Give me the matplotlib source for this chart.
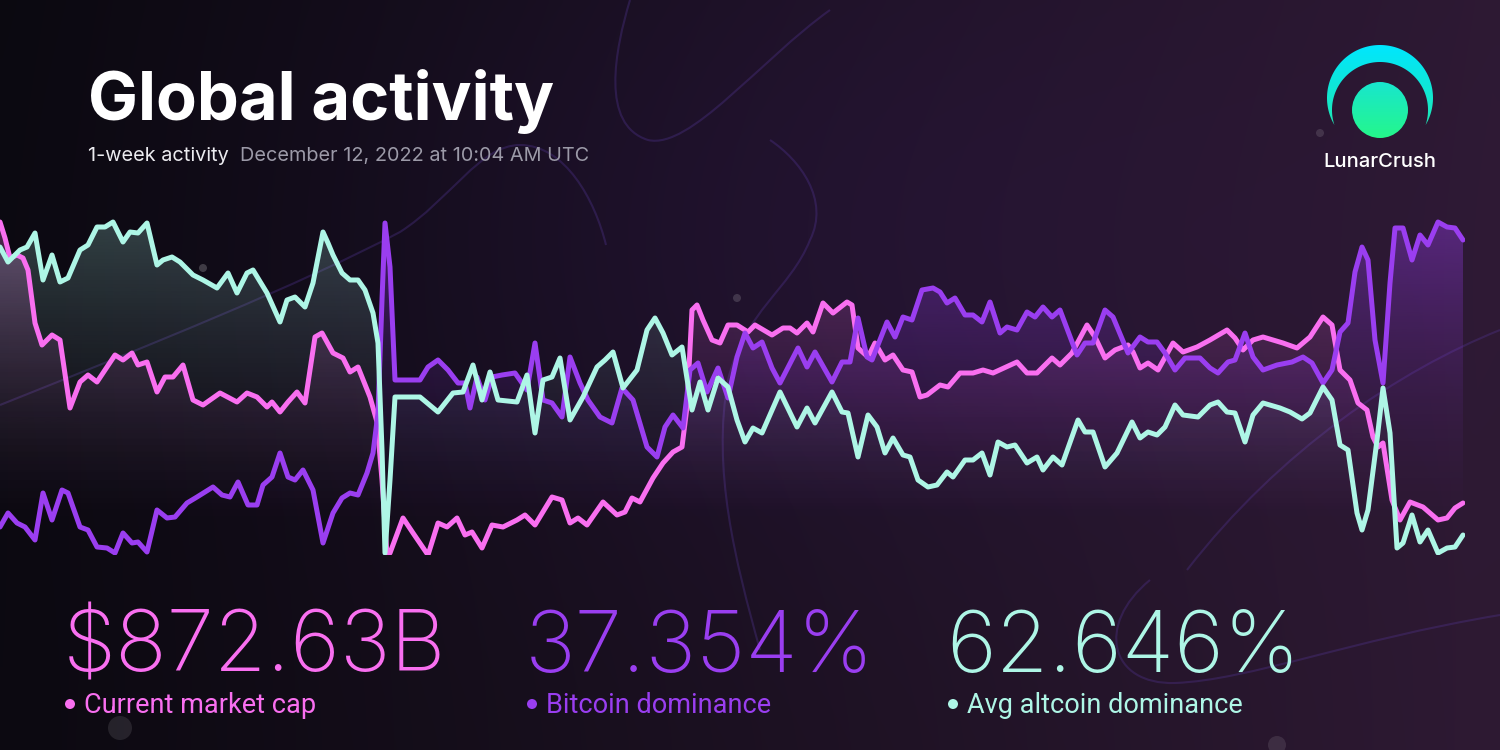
import numpy as np
import matplotlib
matplotlib.use('Agg')
import matplotlib.pyplot as plt
from matplotlib.colors import to_rgb
from matplotlib.patches import Polygon, Circle, PathPatch
from matplotlib.path import Path

plt.rcParams['font.family'] = ['Inter', 'DejaVu Sans']

# ---- data: samples across the week, levels above chart baseline ----
cap_t = [0, 5, 10, 17, 23, 28, 35, 42, 52, 60, 70, 80, 88, 97, 105, 115, 123, 132, 138, 147,
         157, 165, 173, 183, 193, 203, 220, 237, 247, 257, 267, 272, 280, 288, 297, 305, 315, 322,
         333, 343, 350, 358, 370, 377, 382, 387, 390, 403, 413, 428, 438, 447, 457, 465, 472, 482,
         492, 503, 517, 525, 535, 552, 562, 570, 578, 587, 603, 617, 625, 632, 640, 653, 663, 673,
         682, 687, 692, 697, 703, 712, 720, 728, 737, 748, 755, 772, 783, 790, 797, 807, 813, 823,
         833, 847, 852, 858, 868, 875, 885, 893, 903, 912, 920, 927, 940, 948, 960, 973, 983, 993,
         1017, 1027, 1037, 1052, 1060, 1072, 1087, 1095, 1105, 1115, 1128, 1133, 1140, 1148, 1158,
         1173, 1183, 1197, 1210, 1227, 1235, 1243, 1253, 1263, 1283, 1297, 1310, 1323, 1332, 1340,
         1350, 1358, 1367, 1373, 1378, 1383, 1392, 1400, 1410, 1423, 1438, 1447, 1455, 1463]
cap_v = [333, 317, 297, 300, 297, 285, 232, 210, 220, 215, 147, 173, 180, 173, 185, 200, 195, 202, 190, 193,
         163, 178, 178, 190, 155, 150, 162, 153, 162, 158, 148, 153, 143, 153, 163, 152, 218, 222,
         202, 197, 183, 188, 158, 133, 75, 0, 2, 37, 22, 0, 32, 28, 37, 20, 23, 7,
         30, 28, 35, 40, 30, 58, 55, 32, 37, 30, 53, 40, 43, 57, 53, 77, 92, 103,
         108, 148, 245, 250, 235, 215, 212, 230, 230, 223, 230, 220, 227, 227, 222, 232, 223, 252,
         242, 253, 250, 207, 198, 212, 195, 200, 185, 183, 158, 160, 170, 168, 182, 182, 185, 182,
         193, 182, 182, 197, 190, 202, 230, 218, 197, 205, 210, 203, 187, 192, 185,
         212, 203, 208, 215, 225, 217, 205, 215, 218, 212, 207, 218, 238, 230, 185,
         175, 152, 145, 118, 108, 112, 55, 35, 53, 48, 35, 37, 47, 52]

btc_t = [0, 8, 17, 25, 35, 43, 52, 62, 68, 80, 88, 97, 107, 115, 123, 132, 138, 147, 157, 167,
         175, 187, 197, 213, 222, 230, 238, 248, 257, 263, 272, 280, 288, 295, 303, 313, 323, 333,
         342, 350, 358, 367, 373, 378, 382, 385, 390, 395, 420, 428, 438, 448, 458, 465, 470, 477,
         485, 492, 502, 515, 527, 535, 543, 552, 562, 570, 580, 588, 600, 612, 622, 633, 647, 657,
         665, 673, 683, 690, 698, 707, 718, 728, 737, 745, 753, 762, 772, 780, 798, 807, 815, 832,
         842, 850, 858, 867, 872, 887, 895, 903, 912, 922, 933, 940, 947, 955, 965, 973, 982, 990,
         1000, 1007, 1017, 1027, 1035, 1043, 1052, 1060, 1077, 1085, 1093, 1105, 1113, 1128, 1140,
         1148, 1157, 1165, 1175, 1185, 1200, 1210, 1218, 1228, 1235, 1245, 1253, 1263, 1277, 1292,
         1303, 1312, 1323, 1332, 1340, 1348, 1355, 1362, 1368, 1375, 1383, 1390, 1395, 1403, 1412,
         1420, 1428, 1438, 1447, 1455, 1463]
btc_v = [28, 42, 32, 28, 15, 62, 35, 65, 62, 28, 25, 8, 7, 2, 22, 12, 13, 3, 45, 37,
         38, 52, 58, 68, 60, 58, 73, 50, 50, 70, 78, 102, 78, 75, 85, 65, 12, 42,
         57, 62, 60, 82, 102, 142, 255, 332, 288, 175, 175, 188, 195, 185, 172, 172, 147, 178,
         155, 178, 180, 182, 165, 212, 155, 152, 138, 198, 172, 155, 138, 132, 167, 155, 108, 98,
         128, 140, 127, 185, 192, 163, 187, 157, 198, 222, 207, 213, 187, 172, 207, 188, 203, 173,
         193, 193, 237, 198, 195, 233, 218, 238, 235, 265, 267, 263, 252, 257, 240, 240, 233, 253,
         222, 228, 225, 243, 238, 248, 238, 245, 200, 212, 212, 245, 238, 202, 218,
         213, 213, 202, 185, 197, 197, 187, 182, 193, 195, 222, 198, 185, 190, 193,
         198, 192, 172, 185, 223, 232, 283, 308, 295, 215, 172, 272, 327, 327, 295,
         320, 310, 333, 328, 327, 315]

alt_t = [0, 8, 20, 27, 35, 43, 52, 60, 68, 80, 88, 97, 105, 113, 123, 130, 138, 147, 157, 163,
         172, 180, 193, 203, 217, 228, 237, 247, 253, 267, 280, 287, 295, 305, 313, 323, 328, 333,
         342, 350, 358, 365, 373, 378, 382, 385, 390, 395, 420, 438, 453, 463, 473, 482, 490, 498,
         517, 527, 535, 543, 552, 560, 570, 583, 597, 605, 613, 623, 637, 647, 655, 663, 672, 682,
         692, 700, 708, 718, 728, 737, 745, 753, 762, 780, 797, 807, 815, 832, 842, 848, 858, 868,
         877, 885, 893, 903, 910, 918, 928, 937, 947, 953, 965, 973, 982, 990, 998, 1007, 1015,
         1027, 1037, 1043, 1053, 1062, 1078, 1085, 1093, 1105, 1117, 1132, 1140, 1148, 1157, 1165,
         1175, 1183, 1198, 1210, 1218, 1227, 1235, 1245, 1253, 1263, 1280, 1290, 1302, 1310, 1323,
         1332, 1340, 1348, 1357, 1362, 1368, 1377, 1383, 1390, 1397, 1403, 1412, 1420, 1428, 1438,
         1447, 1455, 1463]
alt_v = [308, 293, 305, 308, 322, 275, 300, 273, 277, 305, 310, 328, 328, 333, 313, 323, 322, 332, 290, 295,
         298, 293, 280, 275, 267, 282, 262, 282, 285, 262, 233, 255, 258, 248, 272, 323, 312, 300,
         282, 275, 275, 265, 242, 212, 105, 2, 75, 158, 158, 143, 162, 163, 190, 155, 183, 155,
         153, 180, 122, 175, 178, 197, 135, 158, 188, 195, 203, 167, 185, 225, 237, 222, 200, 208,
         145, 173, 145, 177, 168, 135, 113, 127, 122, 163, 128, 147, 132, 163, 143, 142, 98, 140,
         128, 102, 117, 100, 98, 75, 68, 70, 83, 78, 95, 95, 102, 80, 113, 108, 110,
         92, 98, 85, 98, 90, 135, 123, 123, 88, 102, 133, 117, 123, 120, 128,
         150, 140, 138, 150, 153, 143, 142, 113, 140, 152, 147, 143, 136, 142, 168,
         155, 110, 105, 42, 25, 45, 115, 167, 122, 7, 12, 40, 13, 25, 2,
         7, 8, 20]

stats = ['$872.63B', '37.354%', '62.646%']
stat_labels = ['Current market cap', 'Bitcoin dominance', 'Avg altcoin dominance']

PINK = '#f96ff0'
PURPLE = '#9a3ef0'
MINT = '#aef6e6'

W, H = 1500, 750
fig = plt.figure(figsize=(15, 7.5), dpi=100)

# ---- background ----
bg = fig.add_axes([0, 0, 1, 1])
gx = np.linspace(0, 1, 300)[None, :]
gy = np.linspace(0, 1, 150)[:, None]
left = np.array([11, 9, 16]) / 255
right = np.array([45, 25, 50]) / 255
fx = np.clip(gx ** 1.15 + 0.03 * gy, 0, 1)
img = left[None, None, :] + (right - left)[None, None, :] * fx[..., None]
glow = np.exp(-(((gx - 0.55) / 0.35) ** 2 + ((gy - 0.3) / 0.45) ** 2))
img += (np.array([6, 2, 14]) / 255)[None, None, :] * glow[..., None]
bg.imshow(np.clip(img, 0, 1), extent=[0, W, H, 0], aspect='auto', interpolation='bilinear')
bg.set_xlim(0, W)
bg.set_ylim(H, 0)
bg.axis('off')

# faint decorative curves
M, C = Path.MOVETO, Path.CURVE4
curves = [
    [(0, 405), (150, 345), (300, 285), (400, 232), (450, 200), (480, 145), (520, 145),
     (565, 145), (595, 200), (606, 245)],
    [(770, 140), (800, 160), (830, 200), (810, 240), (790, 290), (745, 310), (728, 380),
     (712, 470), (735, 560), (760, 650)],
    [(630, 0), (615, 50), (600, 125), (648, 140), (690, 150), (760, 60), (830, 10)],
    [(1187, 570), (1280, 450), (1400, 370), (1500, 330)],
    [(1150, 580), (1095, 625), (1110, 685), (1175, 683), (1250, 680), (1350, 640), (1500, 615)],
]
for pts in curves:
    codes = [M] + [C] * (len(pts) - 1)
    bg.add_patch(PathPatch(Path(pts, codes), facecolor='none', edgecolor='#55379a',
                           lw=1.5, alpha=0.32))

for (cx, cy, r, a) in [(203, 268, 4, 0.2), (737, 298, 4, 0.15), (120, 728, 12, 0.1),
                       (1277, 745, 9, 0.1), (1320, 133, 4, 0.12)]:
    bg.add_patch(Circle((cx, cy), r, color='white', alpha=a, lw=0))

# ---- logo ----
oc, R = np.array([1380, 98]), 53
ic, r_in = np.array([1380, 110]), 48
th = np.linspace(-np.pi / 2 - np.pi, -np.pi / 2 + np.pi, 1200)
outer = oc + R * np.c_[np.cos(th), np.sin(th)]
outer = outer[np.hypot(*(outer - ic).T) > r_in]
inner = ic + r_in * np.c_[np.cos(th), np.sin(th)]
inner = inner[np.hypot(*(inner - oc).T) < R]
crescent = Polygon(np.vstack([outer, inner[::-1]]), closed=True, facecolor='none', edgecolor='none')
bg.add_patch(crescent)


def vgrad(c_top, c_bot, n=64):
    a, b = np.array(to_rgb(c_top)), np.array(to_rgb(c_bot))
    s = np.linspace(0, 1, n)[:, None]
    return (a + (b - a) * s)[:, None, :]


im = bg.imshow(vgrad('#00e6ff', '#1fe8b0'), extent=[1325, 1435, 130, 44], aspect='auto')
im.set_clip_path(crescent)
moon = Circle((1380, 110), 28, facecolor='none', edgecolor='none')
bg.add_patch(moon)
im2 = bg.imshow(vgrad('#18e6cf', '#25f78a'), extent=[1351, 1409, 139, 81], aspect='auto')
im2.set_clip_path(moon)
bg.set_xlim(0, W)
bg.set_ylim(H, 0)

# ---- chart ----
ax = fig.add_axes([0, 195 / H, 1465 / W, 340 / H])
ax.patch.set_alpha(0)
series = [(cap_t, cap_v, PINK, 0.30), (btc_t, btc_v, PURPLE, 0.40), (alt_t, alt_v, MINT, 0.24)]
for t, v, col, a_top in series:
    verts = list(zip(t, v)) + [(t[-1], 0), (t[0], 0)]
    poly = Polygon(verts, closed=True, facecolor='none', edgecolor='none')
    ax.add_patch(poly)
    grad = np.zeros((128, 1, 4))
    grad[..., :3] = to_rgb(col)
    grad[:, 0, 3] = a_top * np.linspace(0, 1, 128) ** 1.8
    gi = ax.imshow(grad, extent=[0, 1465, 0, 340], origin='lower', aspect='auto', zorder=1)
    gi.set_clip_path(poly)
for z, (t, v, col, _) in enumerate(series):
    ax.plot(t, v, color=col, lw=3.6, solid_joinstyle='round', solid_capstyle='round', zorder=3 + z)
ax.set_xlim(0, 1465)
ax.set_ylim(0, 340)
ax.axis('off')


def fx_(x):
    return x / W


def fy_(y):
    return 1 - y / H


# ---- texts ----
fig.text(fx_(88), fy_(120), 'Global activity', color='white', fontsize=48, fontweight='bold')
fig.text(fx_(88), fy_(161), '1-week activity', color='#ececf0', fontsize=14.3)
fig.text(fx_(240), fy_(161), 'December 12, 2022 at 10:04 AM UTC', color='#9c9aa8', fontsize=14.3)
fig.text(fx_(1380), fy_(167), 'LunarCrush', color='white', fontsize=14.5, ha='center', fontweight='medium')

stat_x = [63, 525, 946]
for sx, val, lab, col in zip(stat_x, stats, stat_labels, [PINK, PURPLE, MINT]):
    fig.text(fx_(sx), fy_(672), val, color=col, fontsize=61.5, fontweight='light',
             family=['Inter', 'DejaVu Sans'])
    bg.add_patch(Circle((sx + 7, 704), 5, color=col, lw=0))
    fig.text(fx_(sx + 21), fy_(713), lab, color=col, fontsize=19.5,
             family=['Roboto', 'Inter', 'DejaVu Sans'])

fig.savefig('out.png', dpi=100, facecolor='#0b0910')
